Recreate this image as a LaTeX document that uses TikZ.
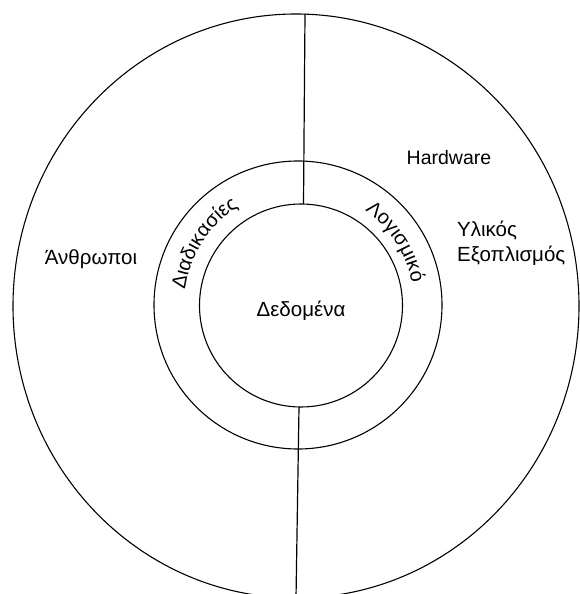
\documentclass[tikz,border=0pt]{standalone}
\usepackage{fontspec}
\setmainfont{Liberation Sans}
\usetikzlibrary{decorations.text}
\begin{document}
\begin{tikzpicture}[x=1pt,y=1pt,
  ring/.style={draw, line width=1.1pt},
  divider/.style={draw, line width=1.2pt},
  lbl/.style={font=\fontsize{20.5}{25}\selectfont, inner sep=0pt},
  lbllat/.style={font=\fontsize{19.5}{25}\selectfont, inner sep=0pt}]
\useasboundingbox (0,0) rectangle (580,594);
\fill[white] (0,0) rectangle (580,594);
\begin{scope}
\clip (0,0) rectangle (580,594);
% circles
\draw[ring] (296,288) ellipse [x radius=283, y radius=292];
\draw[ring] (298,289) circle [radius=144];
\draw[ring] (301,288.5) circle [radius=101.5];
% dividers
\coordinate (topout) at (305,580);
\coordinate (topin) at (303.5,390);
\coordinate (botin) at (299,187);
\coordinate (botout) at (296,-4);
\draw[divider] (topout) -- (topin);
\draw[divider] (botin) -- (botout);
% labels
\node[lbllat, anchor=base] (hw) at (449,429) {Hardware};
\node[lbl, anchor=base west] (ylikos) at (457,357) {Υλικός};
\node[lbl, anchor=base west] (exopl) at (457,332) {Εξοπλισμός};
\node[lbl, anchor=base] (anthr) at (91,329) {Άνθρωποι};
\node[lbl, anchor=base] (dedom) at (301,277) {Δεδομένα};
% ring texts
\path[decorate, decoration={text along path, text align=center,
  text={|\fontsize{20}{24}\selectfont|Διαδικασίες}}]
  (299,289) ++(205:115) arc[start angle=205, end angle=89, radius=115];
\path[decorate, decoration={text along path, text align=center,
  text={|\fontsize{20}{24}\selectfont|Λογισμικό}}]
  (299,289) ++(91:115) arc[start angle=91, end angle=-25, radius=115];
\end{scope}
\end{tikzpicture}
\end{document}
